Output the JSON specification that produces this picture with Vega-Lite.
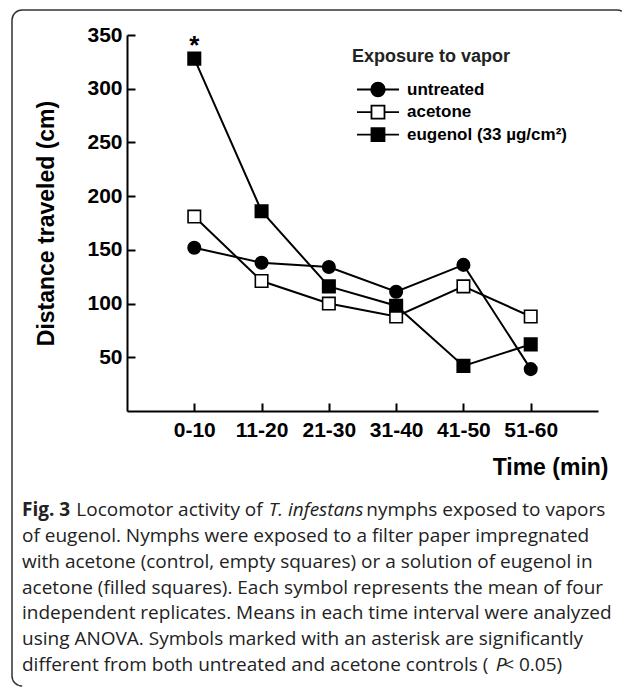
{
  "$schema": "https://vega.github.io/schema/vega-lite/v6.json",
  "width": 615,
  "height": 676,
  "autosize": {"type": "none"},
  "padding": {"left": 12, "top": 10, "right": 0, "bottom": 1},
  "background": "white",
  "config": {
    "view": {"stroke": "#333333", "strokeWidth": 1.5, "cornerRadius": 10, "strokeDash": [600, 1277, 700]},
    "font": "Liberation Sans",
    "legend": {
      "titleFont": "Liberation Sans", "titleFontSize": 18, "titleFontWeight": "bold", "titleColor": "#222222", "titlePadding": 15,
      "labelFont": "Liberation Sans", "labelFontSize": 17, "labelFontWeight": "bold", "labelColor": "black", "labelOffset": 38,
      "symbolSize": 169, "symbolStrokeWidth": 1.8, "symbolOpacity": 1, "rowPadding": 1.6, "padding": 0
    }
  },
  "datasets": {
    "series": [
      {"time": "0-10", "series": "untreated", "value": 152},
      {"time": "11-20", "series": "untreated", "value": 138},
      {"time": "21-30", "series": "untreated", "value": 134},
      {"time": "31-40", "series": "untreated", "value": 111},
      {"time": "41-50", "series": "untreated", "value": 136},
      {"time": "51-60", "series": "untreated", "value": 39},
      {"time": "0-10", "series": "acetone", "value": 181},
      {"time": "11-20", "series": "acetone", "value": 121},
      {"time": "21-30", "series": "acetone", "value": 100},
      {"time": "31-40", "series": "acetone", "value": 88},
      {"time": "41-50", "series": "acetone", "value": 116},
      {"time": "51-60", "series": "acetone", "value": 88},
      {"time": "0-10", "series": "eugenol (33 µg/cm²)", "value": 328, "sig": "*"},
      {"time": "11-20", "series": "eugenol (33 µg/cm²)", "value": 186},
      {"time": "21-30", "series": "eugenol (33 µg/cm²)", "value": 116},
      {"time": "31-40", "series": "eugenol (33 µg/cm²)", "value": 98},
      {"time": "41-50", "series": "eugenol (33 µg/cm²)", "value": 42},
      {"time": "51-60", "series": "eugenol (33 µg/cm²)", "value": 62}
    ],
    "caption": [
      {"line": 1, "text": "\u200b\u00a0\u00a0\u00a0\u00a0\u00a0\u00a0\u00a0\u00a0\u00a0\u00a0 Locomotor activity of \u00a0\u00a0\u00a0\u00a0\u00a0\u00a0\u00a0\u00a0\u00a0\u00a0\u00a0\u00a0\u00a0\u00a0\u00a0\u00a0\u00a0\u00a0\u00a0 nymphs exposed to vapors"},
      {"line": 2, "text": "of eugenol. Nymphs were exposed to a filter paper impregnated"},
      {"line": 3, "text": "with acetone (control, empty squares) or a solution of eugenol in"},
      {"line": 4, "text": "acetone (filled squares). Each symbol represents the mean of four"},
      {"line": 5, "text": "independent replicates. Means in each time interval were analyzed"},
      {"line": 6, "text": "using ANOVA. Symbols marked with an asterisk are significantly"},
      {"line": 7, "text": "different from both untreated and acetone controls (\u00a0\u00a0 < 0.05)"}
    ],
    "captionBold": [
      {"line": 1, "text": "Fig. 3"}
    ],
    "captionItalic": [
      {"line": 1, "text": "\u200b\u00a0\u00a0\u00a0\u00a0\u00a0\u00a0\u00a0\u00a0\u00a0\u00a0\u00a0\u00a0\u00a0\u00a0\u00a0\u00a0\u00a0\u00a0\u00a0\u00a0\u00a0\u00a0\u00a0\u00a0\u00a0\u00a0\u00a0\u00a0\u00a0\u00a0\u00a0\u00a0\u00a0\u00a0\u00a0\u00a0\u00a0\u00a0\u00a0\u00a0\u00a0\u00a0\u00a0\u00a0\u00a0\u00a0\u00a0\u00a0\u00a0\u00a0T. infestans"},
      {"line": 7, "text": "\u200b\u00a0\u00a0\u00a0\u00a0\u00a0\u00a0\u00a0\u00a0\u00a0\u00a0\u00a0\u00a0\u00a0\u00a0\u00a0\u00a0\u00a0\u00a0\u00a0\u00a0\u00a0\u00a0\u00a0\u00a0\u00a0\u00a0\u00a0\u00a0\u00a0\u00a0\u00a0\u00a0\u00a0\u00a0\u00a0\u00a0\u00a0\u00a0\u00a0\u00a0\u00a0\u00a0\u00a0\u00a0\u00a0\u00a0\u00a0\u00a0\u00a0\u00a0\u00a0\u00a0\u00a0\u00a0\u00a0\u00a0\u00a0\u00a0\u00a0\u00a0\u00a0\u00a0\u00a0\u00a0\u00a0\u00a0\u00a0\u00a0\u00a0\u00a0\u00a0\u00a0\u00a0\u00a0\u00a0\u00a0\u00a0\u00a0\u00a0\u00a0\u00a0\u00a0\u00a0\u00a0\u00a0\u00a0\u00a0\u00a0\u00a0\u00a0\u00a0\u00a0\u00a0\u00a0\u00a0\u00a0P"}
    ]
  },
  "layer": [
    {
      "data": {"name": "series"},
      "encoding": {
        "x": {
          "field": "time", "type": "ordinal", "title": "Time (min)",
          "scale": {"type": "point", "domain": ["0-10", "11-20", "21-30", "31-40", "41-50", "51-60"], "range": [115, 586], "padding": 1.08},
          "axis": {
            "orient": "bottom", "offset": -275, "domainColor": "black", "domainWidth": 2, "tickColor": "black", "tickWidth": 2, "tickSize": -8,
            "labelPadding": 16, "labelFont": "Liberation Sans", "labelFontWeight": "bold", "labelFontSize": 21, "labelColor": "black", "labelAngle": 0,
            "grid": false, "titleFont": "Liberation Sans", "titleFontSize": 23, "titleFontWeight": "bold", "titleColor": "black",
            "titleX": 596, "titleY": 56, "titleAlign": "right", "titleBaseline": "middle"
          }
        },
        "y": {
          "field": "value", "type": "quantitative", "title": "Distance traveled (cm)",
          "scale": {"domain": [0, 350], "range": [401, 25], "nice": false, "zero": false},
          "axis": {
            "orient": "left", "offset": -115, "values": [50, 100, 150, 200, 250, 300, 350], "domainColor": "black", "domainWidth": 2,
            "tickColor": "black", "tickWidth": 2, "tickSize": -8, "labelPadding": 13, "labelFont": "Liberation Sans", "labelFontWeight": "bold",
            "labelFontSize": 21, "labelColor": "black", "grid": false, "titleFont": "Liberation Sans", "titleFontSize": 23, "titleFontWeight": "bold",
            "titleColor": "black", "titleX": -81, "titleY": 213, "titleBaseline": "middle", "titleAngle": -90
          }
        }
      },
      "layer": [
        {"mark": {"type": "line", "stroke": "black", "strokeWidth": 2}, "encoding": {"detail": {"field": "series"}}},
        {
          "mark": {"type": "point", "filled": true, "stroke": "black", "strokeWidth": 1.6, "opacity": 1, "size": 155},
          "encoding": {
            "shape": {"field": "series", "type": "nominal", "scale": {"domain": ["untreated", "acetone", "eugenol (33 µg/cm²)"], "range": ["circle", "square", "square"]}, "legend": null},
            "fill": {"field": "series", "type": "nominal", "scale": {"domain": ["untreated", "acetone", "eugenol (33 µg/cm²)"], "range": ["black", "white", "black"]}, "legend": null}
          }
        },
        {
          "transform": [{"filter": "isValid(datum.sig)"}],
          "mark": {"type": "text", "font": "Liberation Sans", "fontWeight": "bold", "fontSize": 26, "baseline": "alphabetic", "dy": -5, "fill": "black"},
          "encoding": {"text": {"field": "sig"}}
        },
        {
          "transform": [{"filter": "false"}],
          "mark": {"type": "point", "filled": true, "strokeWidth": 1.8, "opacity": 1},
          "encoding": {
            "fill": {"field": "series", "type": "nominal",
              "scale": {"domain": ["untreated", "acetone", "eugenol (33 µg/cm²)"], "range": ["black", "white", "black"]},
              "legend": {"title": "Exposure to vapor", "orient": "none", "legendX": 340, "legendY": 38}},
            "stroke": {"field": "series", "type": "nominal",
              "scale": {"domain": ["untreated", "acetone", "eugenol (33 µg/cm²)"], "range": ["black", "black", "black"]},
              "legend": {"title": "Exposure to vapor", "orient": "none", "legendX": 340, "legendY": 38}},
            "shape": {"field": "series", "type": "nominal",
              "scale": {"domain": ["untreated", "acetone", "eugenol (33 µg/cm²)"],
                "range": [
                  "M-0.54,0H1.64M3.74,0H5.92M3.74,0C3.74,0.58 3.27,1.05 2.69,1.05C2.11,1.05 1.64,0.58 1.64,0C1.64,-0.58 2.11,-1.05 2.69,-1.05C3.27,-1.05 3.74,-0.58 3.74,0Z",
                  "M-0.54,0H1.69M3.69,0H5.92M1.69,-1H3.69V1H1.69Z",
                  "M-0.54,0H1.69M3.69,0H5.92M1.69,-1H3.69V1H1.69Z"
                ]},
              "legend": {"title": "Exposure to vapor", "orient": "none", "legendX": 340, "legendY": 38}}
          }
        }
      ],
      "resolve": {"scale": {"shape": "independent", "fill": "independent", "stroke": "independent"}}
    },
    {
      "encoding": {
        "y": {"field": "line", "type": "quantitative", "scale": {"domain": [1, 7], "range": [500, 655]}, "axis": null},
        "text": {"field": "text"}
      },
      "layer": [
        {"data": {"name": "caption"}, "mark": {"type": "text", "font": "Open Sans", "fontSize": 19, "align": "left", "baseline": "middle", "fill": "#222222", "x": 10}},
        {"data": {"name": "captionBold"}, "mark": {"type": "text", "font": "Open Sans", "fontWeight": "bold", "fontSize": 19, "align": "left", "baseline": "middle", "fill": "#222222", "x": 10}},
        {"data": {"name": "captionItalic"}, "mark": {"type": "text", "font": "Open Sans", "fontStyle": "italic", "fontSize": 19, "align": "left", "baseline": "middle", "fill": "#222222", "x": 10}}
      ]
    }
  ],
  "resolve": {"scale": {"y": "independent"}}
}
